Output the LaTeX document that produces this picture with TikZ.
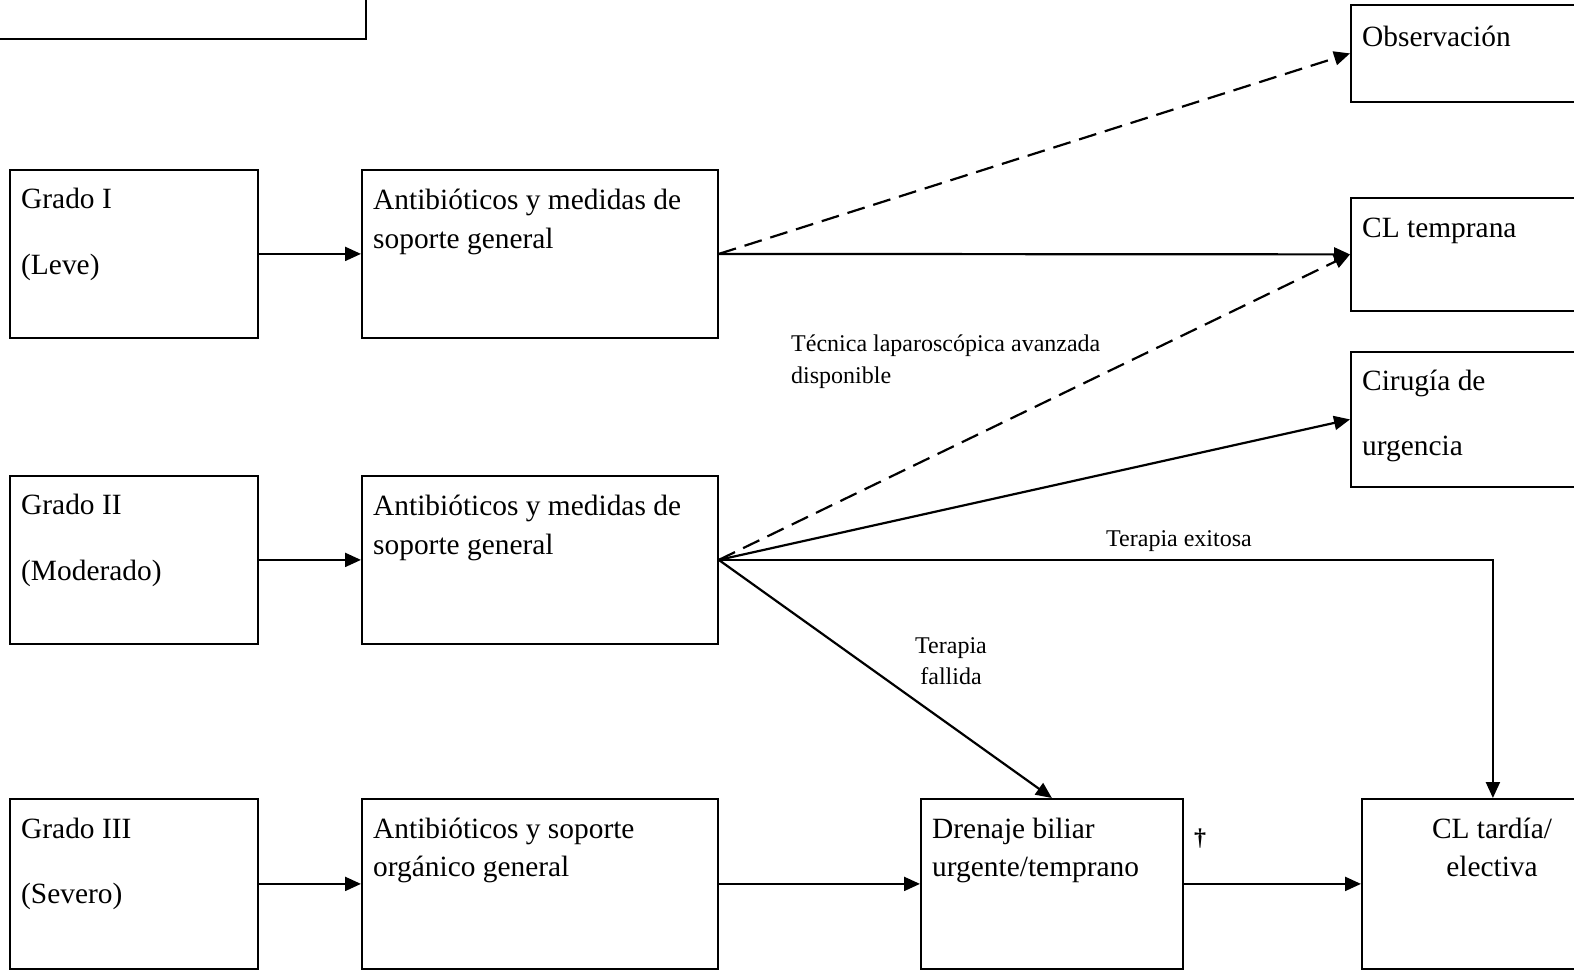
\documentclass[tikz,border=0pt]{standalone}
\usepackage{fontspec}
\setmainfont{Liberation Serif}
\usetikzlibrary{arrows.meta}
\tikzset{
  box/.style={draw=black,line width=1.8pt,rectangle,inner sep=0pt,anchor=north west},
  big/.style={anchor=base west,inner sep=0pt,font=\fontsize{29.4}{34}\selectfont},
  bigc/.style={anchor=base,inner sep=0pt,font=\fontsize{29.4}{34}\selectfont},
  small/.style={anchor=base west,inner sep=0pt,font=\fontsize{24}{28}\selectfont},
  smallc/.style={anchor=base,inner sep=0pt,font=\fontsize{24}{28}\selectfont},
  conn/.style={line width=2.2pt,-{Triangle[length=16pt,width=14pt]}},
  dconn/.style={conn,dash pattern=on 18pt off 9pt},
}
\begin{document}
\begin{tikzpicture}[x=1pt,y=-1pt]
\useasboundingbox (0,0) rectangle (1574,970);
\clip (0,0) rectangle (1574,970);
% boxes
\node[box,minimum width=380pt,minimum height=50pt] (top) at (-15,-12) {};
\node[box,minimum width=260pt,minimum height=97pt] (obs) at (1350,4) {};
\node[box,minimum width=260pt,minimum height=113pt] (cltemp) at (1350,197) {};
\node[box,minimum width=260pt,minimum height=135pt] (cirug) at (1350,351) {};
\node[box,minimum width=248pt,minimum height=168pt] (g1) at (9,169) {};
\node[box,minimum width=356pt,minimum height=168pt] (a1) at (361,169) {};
\node[box,minimum width=248pt,minimum height=168pt] (g2) at (9,475) {};
\node[box,minimum width=356pt,minimum height=168pt] (a2) at (361,475) {};
\node[box,minimum width=248pt,minimum height=170pt] (g3) at (9,798) {};
\node[box,minimum width=356pt,minimum height=170pt] (a3) at (361,798) {};
\node[box,minimum width=262pt,minimum height=170pt] (dren) at (920,798) {};
\node[box,minimum width=262pt,minimum height=170pt] (cltard) at (1361,798) {};
% texts
\node[big] (tg1a) at (21,208) {Grado I};
\node[big] (tg1b) at (21,274) {(Leve)};
\node[big] (ta1a) at (373,209) {Antibióticos y medidas de};
\node[big] (ta1b) at (373,248) {soporte general};
\node[big] (tobs) at (1362,46) {Observación};
\node[big] (tclt) at (1362,237) {CL temprana};
\node[big] (tcira) at (1362,390) {Cirugía de};
\node[big] (tcirb) at (1362,455) {urgencia};
\node[big] (tg2a) at (21,514) {Grado II};
\node[big] (tg2b) at (21,580) {(Moderado)};
\node[big] (ta2a) at (373,515) {Antibióticos y medidas de};
\node[big] (ta2b) at (373,554) {soporte general};
\node[big] (tg3a) at (21,838) {Grado III};
\node[big] (tg3b) at (21,903) {(Severo)};
\node[big] (ta3a) at (373,838) {Antibióticos y soporte};
\node[big] (ta3b) at (373,876) {orgánico general};
\node[big] (tdra) at (932,838) {Drenaje biliar};
\node[big] (tdrb) at (932,876) {urgente/temprano};
\node[bigc] (tcla) at (1492,838) {CL tardía/};
\node[bigc] (tclb) at (1492,876) {electiva};
% small labels
\node[small] (ltec) at (791,351) {Técnica laparoscópica avanzada};
\node[small] (ldis) at (791,383) {disponible};
\node[smallc] (lexi) at (1179,546) {Terapia exitosa};
\node[smallc] (lfa) at (951,653) {Terapia};
\node[smallc] (lfb) at (951,684) {fallida};
\node[smallc,font=\fontsize{24}{28}\selectfont\bfseries] (ldag) at (1200,845) {†};
% connectors
\draw[conn] (g1.east) -- (a1.west);
\draw[conn] (a1.east) -- (cltemp.west);
\draw[dconn] (a1.east) -- (obs.west);
\draw[conn] (g2.east) -- (a2.west);
\draw[dconn] (a2.east) -- (cltemp.west);
\draw[conn] (a2.east) -- (cirug.west);
\draw[conn] (a2.east) -| (cltard.north);
\draw[conn] (a2.east) -- (dren.north);
\draw[conn] (g3.east) -- (a3.west);
\draw[conn] (a3.east) -- (dren.west);
\draw[conn] (dren.east) -- (cltard.west);
\end{tikzpicture}
\end{document}
